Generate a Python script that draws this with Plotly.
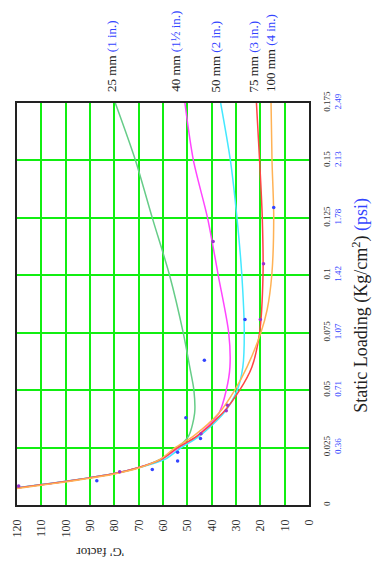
import plotly.graph_objects as go

# Static loading (kg/cm^2) against the 'G' factor for each cushion thickness
loading_25 = [0.0072, 0.0087, 0.0101, 0.0117, 0.0135, 0.016, 0.020, 0.025, 0.030, 0.040, 0.050, 0.060, 0.075, 0.100, 0.125, 0.150, 0.175]
g_25 = [121, 111, 101, 91, 81, 71, 61, 54, 49.5, 47, 47.3, 49, 51.7, 57.3, 64.4, 71.3, 79.6]

loading_40 = [0.0072, 0.0087, 0.0101, 0.0117, 0.0135, 0.016, 0.020, 0.025, 0.030, 0.040, 0.050, 0.060, 0.075, 0.100, 0.125, 0.150, 0.175]
g_40 = [121, 111, 101, 91, 81, 71, 60.5, 53.5, 46, 37, 34, 32.5, 33, 37.3, 41.7, 47.5, 51]

loading_50 = [0.0074, 0.0089, 0.0103, 0.0119, 0.0137, 0.0162, 0.020, 0.025, 0.030, 0.040, 0.050, 0.060, 0.075, 0.100, 0.125, 0.150, 0.175]
g_50 = [121, 110, 100, 90, 80, 70, 59, 52.5, 45, 35, 29.5, 27.2, 26.6, 27.6, 29.6, 32.3, 36.3]

loading_75 = [0.0072, 0.0087, 0.0101, 0.0117, 0.0135, 0.016, 0.020, 0.025, 0.030, 0.040, 0.050, 0.060, 0.075, 0.100, 0.125, 0.150, 0.175]
g_75 = [121, 111, 101, 91, 81, 71, 60.5, 54, 46, 35.5, 28.5, 23.5, 20.3, 18.9, 19.2, 20.3, 21.6]

loading_100 = [0.0070, 0.0085, 0.0099, 0.0115, 0.0133, 0.0158, 0.020, 0.025, 0.030, 0.040, 0.050, 0.060, 0.075, 0.085, 0.100, 0.125, 0.150, 0.175]
g_100 = [121, 111, 101, 91, 81, 71, 61, 55, 47.5, 37, 30.5, 25.5, 19.8, 17.2, 15.3, 14.5, 15.2, 15.6]

# Measured test points
pts_blue_g = [43, 50.6, 54, 54, 64.4, 87.2, 26.3, 14.5, 44.6]
pts_blue_l = [0.063, 0.038, 0.023, 0.0192, 0.0155, 0.0106, 0.0807, 0.1295, 0.029]
pts_violet_g = [44.4, 34, 20, 18.7, 39.4, 77.8, 119.3, 33.5]
pts_violet_l = [0.031, 0.041, 0.0807, 0.105, 0.1147, 0.0145, 0.0083, 0.0434]

# Axis ticks
g_ticks = [120, 110, 100, 90, 80, 70, 60, 50, 40, 30, 20, 10, 0]
load_ticks = [0, 0.025, 0.05, 0.075, 0.1, 0.125, 0.15, 0.175]
load_kg = ["0", "0.025", "0.05", "0.075", "0.1", "0.125", "0.15", "0.175"]
load_psi = ["", "0.36", "0.71", "1.07", "1.42", "1.78", "2.13", "2.49"]

curve_mm = ["25 mm", "40 mm", "50 mm", "75 mm", "100 mm"]
curve_in = ["(1 in.)", "(1½ in.)", "(2 in.)", "(3 in.)", "(4 in.)"]

BLUE = "#3344ff"
SERIF = "Liberation Serif, Times New Roman, serif"

series = [
    (loading_25, g_25, "#66cc88"),
    (loading_40, g_40, "#ff44ff"),
    (loading_50, g_50, "#44e8ff"),
    (loading_75, g_75, "#ff4444"),
    (loading_100, g_100, "#ffb255"),
]

fig = go.Figure()
for (lo, gv, col), name in zip(series, curve_mm):
    fig.add_trace(go.Scatter(
        x=gv, y=lo, mode="lines", name=name,
        line=dict(color=col, width=1.5, shape="spline", smoothing=0.8),
    ))

fig.add_trace(go.Scatter(x=pts_blue_g, y=pts_blue_l, mode="markers",
                         marker=dict(color=BLUE, size=3.5), name="test"))
fig.add_trace(go.Scatter(x=pts_violet_g, y=pts_violet_l, mode="markers",
                         marker=dict(color="#9933cc", size=3.5), name="test 2"))

tick_text = []
for kg, psi in zip(load_kg, load_psi):
    if psi:
        tick_text.append(f"{kg}<br><span style='color:{BLUE}'>{psi}</span>")
    else:
        tick_text.append(kg)

fig.update_layout(
    width=372, height=570,
    margin=dict(l=10, r=63, t=103, b=65),
    paper_bgcolor="white", plot_bgcolor="white",
    showlegend=False,
    font=dict(family=SERIF, color="#222222"),
    xaxis=dict(
        range=[120, 0], tickvals=g_ticks, ticktext=[str(v) for v in g_ticks],
        tickangle=-90, tickfont=dict(size=12, color="#333333"),
        showgrid=True, gridcolor="#11ee11", gridwidth=1.5, zeroline=False,
        showline=True, linecolor="#222222", linewidth=1.5, mirror=True,
        ticks="", ticklabelstandoff=8,
    ),
    yaxis=dict(
        range=[0, 0.175], side="right", tickvals=load_ticks, ticktext=tick_text,
        tickangle=-90, tickfont=dict(size=9, color="#333333"),
        showgrid=True, gridcolor="#11ee11", gridwidth=1.5, zeroline=False,
        showline=True, linecolor="#222222", linewidth=1.5, mirror=True,
        ticks="", ticklabelstandoff=8,
    ),
)

# Curve labels along the top edge
label_x = [106, 172, 213, 252, 269]
for px, mm, inch in zip(label_x, curve_mm, curve_in):
    fig.add_annotation(
        xref="paper", yref="paper", x=(px - 10) / 299, y=1.022,
        xanchor="center", yanchor="bottom", textangle=-90, showarrow=False,
        text=f"{mm} <span style='color:{BLUE}'>{inch}</span>",
        font=dict(size=13, family=SERIF, color="#222222"),
    )

# Axis titles
fig.add_annotation(
    xref="paper", yref="paper", x=(95 - 10) / 299, y=(505 - 553) / 402,
    xanchor="center", yanchor="middle", textangle=180, showarrow=False,
    text="'G' factor", font=dict(size=13, family=SERIF, color="#222222"),
)
fig.add_annotation(
    xref="paper", yref="paper", x=(362 - 10) / 299, y=(505 - 305) / 402,
    xanchor="center", yanchor="middle", textangle=-90, showarrow=False,
    text=f"Static Loading (Kg/cm<sup>2</sup>) <span style='color:{BLUE}'>(psi)</span>",
    font=dict(size=18, family=SERIF, color="#222222"),
)

fig.write_html("out.html")
